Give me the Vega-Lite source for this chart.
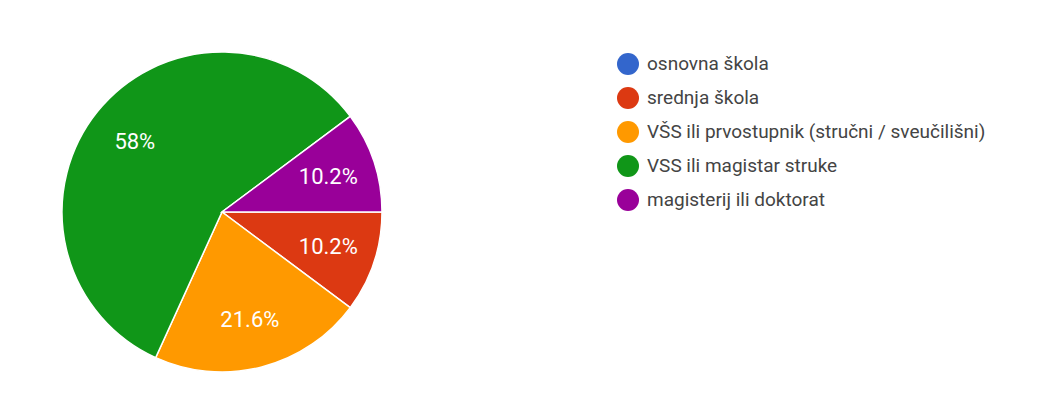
{
  "$schema": "https://vega.github.io/schema/vega-lite/v6.json",
  "width": 320,
  "height": 320,
  "padding": {"left": 62, "top": 52, "right": 665, "bottom": 31},
  "autosize": {"type": "none"},
  "background": "#ffffff",
  "config": {"view": {"stroke": null}, "font": "Roboto"},
  "data": {
    "values": [
      {"i": 1, "kategorija": "osnovna škola", "udio": 0, "oznaka": ""},
      {"i": 2, "kategorija": "srednja škola", "udio": 10.2, "oznaka": "10.2%"},
      {"i": 3, "kategorija": "VŠS ili prvostupnik (stručni / sveučilišni)", "udio": 21.6, "oznaka": "21.6%"},
      {"i": 4, "kategorija": "VSS ili magistar struke", "udio": 58, "oznaka": "58%"},
      {"i": 5, "kategorija": "magisterij ili doktorat", "udio": 10.2, "oznaka": "10.2%"}
    ]
  },
  "encoding": {
    "theta": {"field": "udio", "type": "quantitative", "stack": true, "scale": {"range": [1.5708, 7.854]}},
    "order": {"field": "i", "type": "quantitative"},
    "color": {
      "field": "kategorija",
      "type": "nominal",
      "sort": ["osnovna škola", "srednja škola", "VŠS ili prvostupnik (stručni / sveučilišni)", "VSS ili magistar struke", "magisterij ili doktorat"],
      "scale": {
        "domain": ["osnovna škola", "srednja škola", "VŠS ili prvostupnik (stručni / sveučilišni)", "VSS ili magistar struke", "magisterij ili doktorat"],
        "range": ["#3366cc", "#dc3912", "#ff9900", "#109618", "#990099"]
      },
      "legend": {
        "title": null,
        "orient": "none",
        "legendX": 555,
        "legendY": 1,
        "padding": 0,
        "symbolType": "circle",
        "symbolSize": 484,
        "symbolStrokeWidth": 0,
        "symbolOpacity": 1,
        "labelFontSize": 19,
        "labelFont": "Roboto",
        "labelColor": "#444444",
        "labelOffset": 8,
        "labelLimit": 600,
        "rowPadding": 12
      }
    }
  },
  "layer": [
    {"mark": {"type": "arc", "outerRadius": 160, "stroke": "#ffffff", "strokeWidth": 1.5}},
    {
      "transform": [{"filter": "datum.udio > 0"}],
      "mark": {"type": "text", "radius": 112, "fontSize": 22, "font": "Roboto", "fill": "#ffffff", "align": "center", "baseline": "middle"},
      "encoding": {"text": {"field": "oznaka"}, "color": {"value": "#ffffff"}}
    }
  ]
}
